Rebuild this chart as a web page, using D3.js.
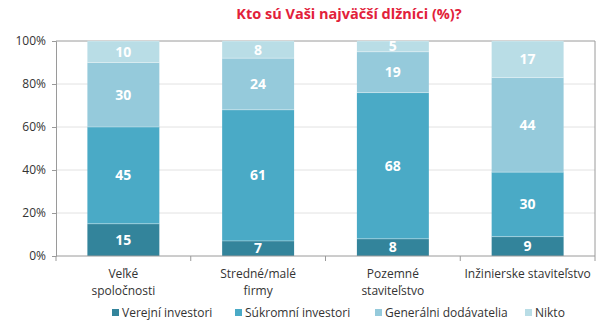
<!DOCTYPE html>
<html><head><meta charset="utf-8">
<script src="https://cdn.jsdelivr.net/npm/d3@7"></script>
<style>body{margin:0;background:#fff}svg{display:block}text{font-family:"Open Sans",sans-serif}</style>
</head><body><svg id="c" width="609" height="327"></svg>
<script>
const categories = [["Veľké","spoločnosti"],["Stredné/malé","firmy"],["Pozemné","staviteľstvo"],["Inžinierske staviteľstvo"]];
const seriesNames = ["Verejní investori","Súkromní investori","Generálni dodávatelia","Nikto"];
const verejni = [15,7,8,9];
const sukromni = [45,61,68,30];
const generalni = [30,24,19,44];
const nikto = [10,8,5,17];
const yTicks = [0,20,40,60,80,100];
const colors = ["#33849b","#4aaac6","#95cadb","#b9dde6"];

const svg = d3.select("#c");
const L=56,R=595,T=41,B=256;
const x = d3.scaleBand().domain(d3.range(categories.length)).range([L,R]).paddingInner(0.466).paddingOuter(0.233);
const y = d3.scaleLinear().domain([0,100]).range([B,T]);

svg.append("text").attr("x",349).attr("y",19).attr("text-anchor","middle")
  .attr("font-size",14.5).attr("font-weight","bold").attr("fill","#e2213a").text("Kto sú Vaši najväčší dlžníci (%)?");

// gridlines
svg.append("g").selectAll("line").data(yTicks.filter(d=>d>0&&d<100)).join("line")
  .attr("x1",L).attr("x2",R).attr("y1",d=>y(d)).attr("y2",d=>y(d)).attr("stroke","#e2e2e2");
// border top/right
svg.append("line").attr("x1",L).attr("x2",R).attr("y1",T).attr("y2",T).attr("stroke","#9a9a9a");
svg.append("line").attr("x1",R).attr("x2",R).attr("y1",T).attr("y2",B).attr("stroke","#9a9a9a");

const rows = categories.map((c,i)=>({i,v:[verejni[i],sukromni[i],generalni[i],nikto[i]]}));
const stack = d3.stack().keys([0,1,2,3]).value((d,k)=>d.v[k]);
const stacked = stack(rows);
const g = svg.append("g");
stacked.forEach((s,k)=>{
  g.selectAll(null).data(s).join("rect")
    .attr("x",d=>x(d.data.i)).attr("width",x.bandwidth())
    .attr("y",d=>y(d[1])).attr("height",d=>y(d[0])-y(d[1]))
    .attr("fill",colors[k]);
});
stacked.forEach((s,k)=>{
  g.selectAll(null).data(s).join("line")
    .attr("x1",d=>x(d.data.i)).attr("x2",d=>x(d.data.i)+x.bandwidth())
    .attr("y1",d=>y(d[1])).attr("y2",d=>y(d[1])).attr("stroke","rgba(255,255,255,0.35)").attr("stroke-width",1);
});
stacked.forEach((s,k)=>{
  g.selectAll(null).data(s).join("text")
    .attr("x",d=>x(d.data.i)+x.bandwidth()/2)
    .attr("y",d=>{const h=y(d[0])-y(d[1]);return (y(d[0])+y(d[1]))/2 + (h<14? h/2-1 : 5);})
    .attr("text-anchor","middle").attr("font-size",14).attr("font-weight","bold")
    .attr("fill","#fff").text(d=>d.data.v[k]);
});

// y axis
const ya = svg.append("g").attr("transform",`translate(${L},0)`)
  .call(d3.axisLeft(y).tickValues(yTicks).tickFormat(d=>d+"%").tickSize(4).tickPadding(6));
ya.select(".domain").attr("stroke","#9a9a9a");
ya.selectAll(".tick line").attr("stroke","#9a9a9a");
ya.selectAll("text").attr("font-size",12).attr("fill","#333").attr("font-family","Open Sans, sans-serif");

// x axis
svg.append("line").attr("x1",L).attr("x2",R).attr("y1",B).attr("y2",B).attr("stroke","#9a9a9a");
const bounds = d3.range(categories.length+1).map(i=> L + i*x.step());
svg.append("g").selectAll("line").data(bounds).join("line")
  .attr("x1",d=>d).attr("x2",d=>d).attr("y1",B).attr("y2",B+5).attr("stroke","#9a9a9a");
const cl = svg.append("g");
categories.forEach((c,i)=>{
  const t = cl.append("text").attr("text-anchor","middle").attr("font-size",12).attr("fill","#333")
    .attr("x",x(i)+x.bandwidth()/2).attr("y",278);
  c.forEach((line,j)=>t.append("tspan").attr("x",x(i)+x.bandwidth()/2).attr("dy",j?17:0).text(line));
});

// legend
const legX = [112,235,375,525];
const lg = svg.append("g");
seriesNames.forEach((n,i)=>{
  lg.append("rect").attr("x",legX[i]).attr("y",309).attr("width",7).attr("height",7).attr("fill",colors[i]);
  lg.append("text").attr("x",legX[i]+10).attr("y",317).attr("font-size",12).attr("fill","#333").text(n);
});
</script></body></html>
